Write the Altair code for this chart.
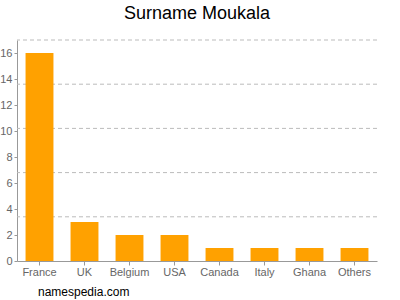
import altair as alt
import pandas as pd

countries = ["France", "UK", "Belgium", "USA", "Canada", "Italy", "Ghana", "Others"]
counts = [16, 3, 2, 2, 1, 1, 1, 1]
y_ticks = [0, 2, 4, 6, 8, 10, 12, 14, 16]
grid_values = [3.4, 6.8, 10.2, 13.6, 17]

df = pd.DataFrame({"country": countries, "count": counts})
grid_df = pd.DataFrame({"g": grid_values})

FONT = "Liberation Sans"

x_enc = alt.X("country:N", sort=countries, title=None,
              scale=alt.Scale(paddingInner=0.38, paddingOuter=0.19),
              axis=alt.Axis(labelAngle=0, labelColor="#666", labelFontSize=11,
                            labelFont=FONT, domainColor="#999", tickColor="#999",
                            tickSize=4, labelPadding=1))
y_scale = alt.Scale(domain=[0, 17], nice=False)
y_axis = alt.Axis(values=y_ticks, grid=False, labelColor="#666",
                  labelFontSize=11, labelFont=FONT, domainColor="#999",
                  tickColor="#999", tickSize=3, labelPadding=2,
                  labelOverlap=False, labelFlush=False)

grid = alt.Chart(grid_df).mark_rule(color="#bbb", strokeDash=[4, 3], strokeWidth=1).encode(
    y=alt.Y("g:Q", scale=y_scale, title=None, axis=y_axis),
)

bars = alt.Chart(df).mark_bar(color="#ffa100").encode(
    x=x_enc,
    y=alt.Y("count:Q", scale=y_scale, title=None, axis=y_axis),
)

wm = alt.Chart(pd.DataFrame({"t": ["namespedia.com"]})).mark_text(
    align="left", baseline="alphabetic", fontSize=12, font=FONT, color="#000"
).encode(text="t:N", x=alt.value(21), y=alt.value(256))

chart = alt.layer(grid, bars, wm).properties(
    width=360, height=221,
    title=alt.TitleParams("Surname Moukala", fontSize=18, font=FONT,
                          fontWeight="normal", color="#000", anchor="middle", offset=17),
    autosize=alt.AutoSizeParams(type="none"),
    padding={"left": 17, "top": 40, "right": 23, "bottom": 39},
).configure_view(stroke=None).configure_axisY(labelOverlap=False)

chart.save("out.html", embed_options={"renderer": "svg", "actions": False})
